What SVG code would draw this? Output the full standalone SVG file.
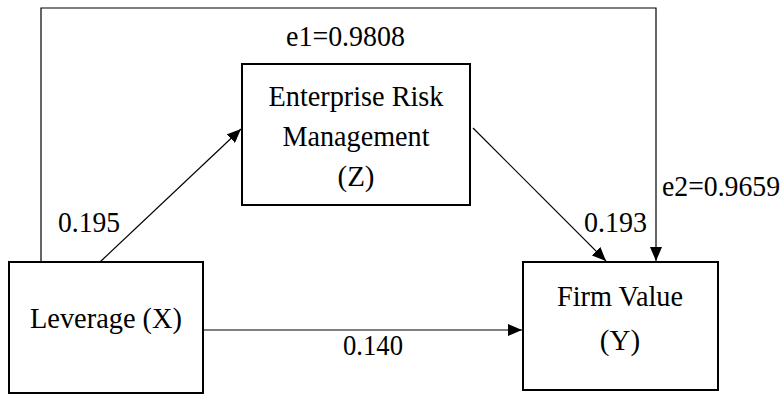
<svg xmlns="http://www.w3.org/2000/svg" width="784" height="394" viewBox="0 0 784 394">
<style>
.box{fill:#fff;stroke:#000;stroke-width:2}
.ln{fill:none;stroke:#000;stroke-width:1.2}
text{font-family:"Liberation Serif","Times New Roman",serif;font-size:29px;fill:#000}
.c{text-anchor:middle}
</style>
<defs>
<marker id="ah" viewBox="0 0 14 12" refX="14" refY="6" markerWidth="14" markerHeight="12" markerUnits="userSpaceOnUse" orient="auto">
<path d="M0,0 L14,6 L0,12 Z" fill="#000"/>
</marker>
</defs>
<rect width="784" height="394" fill="#fff"/>
<g id="connectors">
<polyline class="ln" points="41,262 41,8 656,8 656,261" marker-end="url(#ah)"/>
<line class="ln" x1="100" y1="262" x2="241" y2="129" marker-end="url(#ah)"/>
<line class="ln" x1="473" y1="128" x2="606" y2="261" marker-end="url(#ah)"/>
<line class="ln" x1="203" y1="330" x2="522" y2="330" marker-end="url(#ah)"/>
<text x="286" y="46" textLength="119" lengthAdjust="spacingAndGlyphs">e1=0.9808</text>
<text x="662" y="196" textLength="118" lengthAdjust="spacingAndGlyphs">e2=0.9659</text>
<text x="58" y="232" textLength="62" lengthAdjust="spacingAndGlyphs">0.195</text>
<text x="584" y="232" textLength="63" lengthAdjust="spacingAndGlyphs">0.193</text>
<text x="343" y="355" textLength="60" lengthAdjust="spacingAndGlyphs">0.140</text>
</g>
<g id="erm">
<rect class="box" x="242" y="64" width="228" height="141"/>
<text class="c" x="356" y="106" textLength="175" lengthAdjust="spacingAndGlyphs">Enterprise Risk</text>
<text class="c" x="356" y="146" textLength="147" lengthAdjust="spacingAndGlyphs">Management</text>
<text class="c" x="356" y="186">(Z)</text>
</g>
<g id="leverage">
<rect class="box" x="9" y="262" width="194" height="131"/>
<text class="c" x="106" y="328" textLength="152" lengthAdjust="spacingAndGlyphs">Leverage (X)</text>
</g>
<g id="firm">
<rect class="box" x="523" y="262" width="195" height="128"/>
<text class="c" x="620" y="306" textLength="126" lengthAdjust="spacingAndGlyphs">Firm Value</text>
<text class="c" x="620" y="350">(Y)</text>
</g>
</svg>
